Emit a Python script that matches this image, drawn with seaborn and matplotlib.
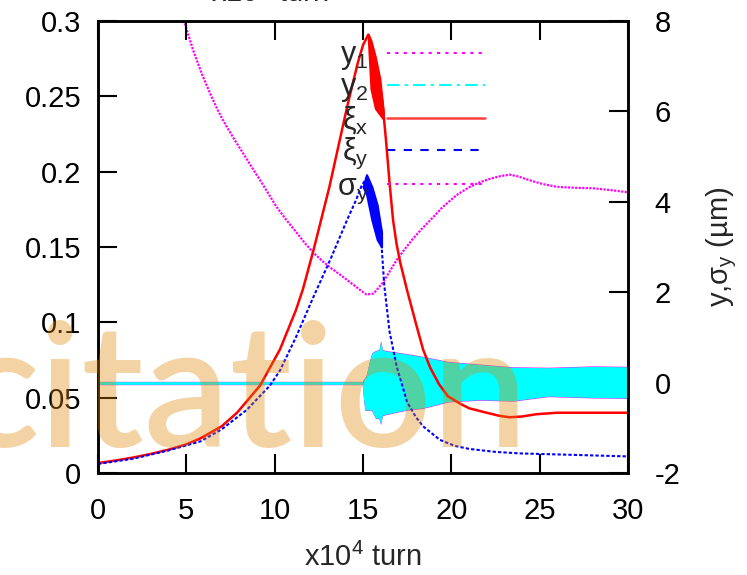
import numpy as np
import pandas as pd
import matplotlib
matplotlib.use("Agg")
import matplotlib.pyplot as plt
import seaborn as sns
from matplotlib.lines import Line2D

# ---------------- data ----------------
# xi_x (left axis)
t_xi_x = [0, 1, 2, 3, 4, 5, 5.8, 7, 7.87, 9.17, 10.3, 11.2, 11.6, 12.2, 13.1, 14.1,
          14.7, 15.0, 15.3, 15.6, 15.9, 16.1, 16.3, 16.5, 16.7, 16.9, 17.1, 17.5,
          18.0, 18.4, 18.8, 19.3, 19.8, 20.5, 21.0, 22.0, 22.7, 23.3, 24.0, 24.8,
          26.0, 27.0, 30.0]
xi_x = [0.0066, 0.0083, 0.0103, 0.0127, 0.0155, 0.019, 0.023, 0.031, 0.040, 0.058,
        0.082, 0.108, 0.122, 0.148, 0.190, 0.243, 0.272, 0.284, 0.291, 0.280, 0.262,
        0.246, 0.221, 0.193, 0.168, 0.152, 0.140, 0.121, 0.099, 0.082, 0.070, 0.059,
        0.051, 0.046, 0.043, 0.040, 0.038, 0.037, 0.0375, 0.039, 0.040, 0.040, 0.040]
t_xi_x_band = [15.3, 15.45, 15.7, 15.95, 16.15]
xi_x_band_hi = [0.291, 0.287, 0.276, 0.262, 0.240]
xi_x_band_lo = [0.288, 0.255, 0.242, 0.238, 0.235]

# xi_y (left axis)
t_xi_y = [0, 2, 4, 5.8, 7, 8.43, 9.73, 10.3, 11.2, 12.2, 13.2, 14.1, 14.6, 14.9, 15.2,
          15.6, 16.0, 16.2, 16.5, 16.9, 17.5, 18.0, 18.4, 19.35, 20.2, 21.0, 22.5,
          23.9, 27.0, 30.0]
xi_y = [0.006, 0.0095, 0.015, 0.021, 0.029, 0.042, 0.058, 0.068, 0.090, 0.117, 0.143,
        0.168, 0.181, 0.190, 0.196, 0.183, 0.160, 0.125, 0.094, 0.071, 0.047, 0.037,
        0.031, 0.022, 0.018, 0.016, 0.014, 0.013, 0.012, 0.011]
t_xi_y_band = [15.0, 15.2, 15.5, 15.8, 16.05]
xi_y_band_hi = [0.190, 0.198, 0.190, 0.178, 0.160]
xi_y_band_lo = [0.190, 0.185, 0.168, 0.155, 0.150]

# sigma_y (right axis, um)
t_sig = [4.5, 4.87, 5.38, 5.85, 6.34, 6.8, 7.3, 7.75, 8.2, 8.7, 9.17, 9.6, 10.1, 10.7,
         11.26, 11.7, 12.2, 12.7, 13.2, 13.7, 14.1, 14.5, 14.9, 15.2, 15.6, 16.1,
         16.5, 16.9, 17.4, 17.8, 18.3, 18.8, 19.5, 20.3, 21.0, 21.6, 22.2, 22.8,
         23.3, 23.8, 24.4, 25.2, 26.0, 27.0, 28.0, 29.0, 30.0]
sig_y = [8.7, 8.0, 7.36, 6.86, 6.40, 6.01, 5.65, 5.36, 5.08, 4.77, 4.48, 4.21, 3.89,
         3.58, 3.31, 3.09, 2.87, 2.69, 2.53, 2.39, 2.27, 2.15, 2.03, 1.95, 1.97, 2.20,
         2.45, 2.71, 2.97, 3.17, 3.39, 3.59, 3.88, 4.15, 4.32, 4.43, 4.51, 4.57, 4.60,
         4.56, 4.48, 4.39, 4.33, 4.31, 4.30, 4.26, 4.21]

# y2 (right axis, um): quiet line then oscillating band
t_y_quiet = [0, 5, 10, 14.95]
y2_quiet = [0.0, 0.0, 0.0, 0.0]
y1_quiet = [0.0, 0.0, 0.0, 0.0]
t_y_band = [14.95, 15.0, 15.1, 15.2, 15.35, 15.5, 15.7, 15.9, 16.0, 16.1, 16.3, 17.0,
            17.5, 18.4, 19.8, 21.6, 23.5, 25.5, 28.0, 30.0]
y2_hi = [0.0, 0.05, 0.10, 0.18, 0.45, 0.65, 0.70, 0.72, 0.92, 0.72, 0.70, 0.66, 0.63,
         0.57, 0.46, 0.40, 0.34, 0.33, 0.36, 0.35]
y2_lo = [0.0, -0.25, -0.60, -0.61, -0.60, -0.62, -0.78, -0.79, -0.92, -0.72, -0.70,
         -0.64, -0.60, -0.56, -0.42, -0.38, -0.40, -0.30, -0.33, -0.34]
y1_hi = [0.0, 0.06, 0.11, 0.19, 0.46, 0.66, 0.71, 0.73, 0.93, 0.73, 0.71, 0.67, 0.64,
         0.58, 0.47, 0.41, 0.35, 0.34, 0.37, 0.36]
y1_lo = [0.0, -0.26, -0.61, -0.62, -0.61, -0.63, -0.79, -0.80, -0.93, -0.73, -0.71,
         -0.65, -0.61, -0.57, -0.43, -0.39, -0.41, -0.31, -0.34, -0.35]

x_ticks = [0, 5, 10, 15, 20, 25, 30]
left_ticks = [0, 0.05, 0.1, 0.15, 0.2, 0.25, 0.3]
left_labels = ["0", "0.05", "0.1", "0.15", "0.2", "0.25", "0.3"]
right_ticks = [-2, 0, 2, 4, 6, 8]
right_labels = ["-2", "0", "2", "4", "6", "8"]

legend_labels = ["y$_1$", "y$_2$", "ξ$_x$", "ξ$_y$", "σ$_y$"]
watermark = "citation"

# ---------------- style ----------------
sns.set_style("white")
plt.rcParams["font.family"] = ["Liberation Sans", "DejaVu Sans"]
plt.rcParams["mathtext.fontset"] = "custom"
plt.rcParams["mathtext.rm"] = "Liberation Sans"
plt.rcParams["mathtext.it"] = "Liberation Sans"
plt.rcParams["mathtext.bf"] = "Liberation Sans:bold"

FS = 21
W, H = 747, 575
fig = plt.figure(figsize=(W / 100, H / 100), dpi=100)
L, R, T, B = 98, 628, 21, 473
ax = fig.add_axes([L / W, (H - B) / H, (R - L) / W, (B - T) / H])
ax2 = ax.twinx()
ax.set_zorder(ax2.get_zorder() + 1)
ax.patch.set_visible(False)

# right-axis series
df_sig = pd.DataFrame({"t": t_sig, "v": sig_y})
df_y1q = pd.DataFrame({"t": t_y_quiet, "v": y1_quiet})
df_y2q = pd.DataFrame({"t": t_y_quiet, "v": y2_quiet})

ax2.fill_between(t_y_band, y1_lo, y1_hi, color="magenta", lw=0)
sns.lineplot(data=df_y1q, x="t", y="v", ax=ax2, color="magenta", lw=2.4, legend=False)
ax2.fill_between(t_y_band, y2_lo, y2_hi, color="cyan", lw=0)
sns.lineplot(data=df_y2q, x="t", y="v", ax=ax2, color="cyan", lw=2.0, legend=False)
sns.lineplot(data=df_sig, x="t", y="v", ax=ax2, color="magenta", lw=1.6,
             linestyle=(0, (1, 0.6)), legend=False)

# left-axis series
df_xx = pd.DataFrame({"t": t_xi_x, "v": xi_x})
df_xy = pd.DataFrame({"t": t_xi_y, "v": xi_y})
sns.lineplot(data=df_xx, x="t", y="v", ax=ax, color="red", lw=1.8, legend=False)
ax.fill_between(t_xi_x_band, xi_x_band_lo, xi_x_band_hi, color="red", lw=1.5, ec="red")
sns.lineplot(data=df_xy, x="t", y="v", ax=ax, color="blue", lw=1.5,
             linestyle=(0, (1.6, 1.0)), legend=False)
ax.fill_between(t_xi_y_band, xi_y_band_lo, xi_y_band_hi, color="blue", lw=1.5, ec="blue")

# axes limits / ticks
ax.set_xlim(0, 30)
ax.set_ylim(0, 0.3)
ax2.set_ylim(-2, 8)
ax.set_xticks(x_ticks)
ax.set_xticklabels([str(v) for v in x_ticks])
ax.set_yticks(left_ticks)
ax.set_yticklabels(left_labels)
ax2.set_yticks(right_ticks)
ax2.set_yticklabels(right_labels)
ax.set_xlabel("")
ax.set_ylabel("")

ax.tick_params(axis="x", direction="in", length=14, width=1.5, top=True, bottom=True,
               labelsize=FS, pad=17, colors="black")
ax.tick_params(axis="y", direction="in", length=14, width=1.5, left=True, right=False,
               labelsize=FS, pad=12, colors="black")
ax2.tick_params(axis="y", direction="in", length=14, width=1.5, left=False, right=True,
                labelsize=FS, pad=19, colors="black")
for a in (ax, ax2):
    for s in a.spines.values():
        s.set_linewidth(1.8)
        s.set_color("black")

ax.set_xlabel("x10$^4$ turn", fontsize=FS, va="top")
ax.xaxis.set_label_coords(0.5, -0.155)
ax2.set_ylabel("y,σ$_y$ (µm)", fontsize=FS, rotation=90, va="center")
ax2.yaxis.set_label_coords(1.177, 0.5)

# top (cropped) label
fig.text(270 / W, (H - 2) / H, "x10$^4$ turn", fontsize=FS, ha="center", va="baseline")

# legend
handles = [
    Line2D([], [], color="magenta", lw=1.5, linestyle=(0, (1.5, 2.5))),
    Line2D([], [], color="cyan", lw=1.5, linestyle=(0, (6, 2.5, 1.5, 2.5))),
    Line2D([], [], color="#ff4040", lw=1.8),
    Line2D([], [], color="blue", lw=1.5, linestyle=(0, (4, 4))),
    Line2D([], [], color="magenta", lw=1.5, linestyle=(0, (1.5, 2.5))),
]
leg = ax.legend(handles, legend_labels, loc="upper right", bbox_to_anchor=(0.73, 0.957),
                markerfirst=False, frameon=False, fontsize=FS + 1, handlelength=3.2,
                handletextpad=0.6, labelspacing=0.0, borderpad=0, borderaxespad=0)

# watermark
fig.text(-42 / W, (H - 447) / H, watermark, fontsize=123, family="Lato",
         fontweight="semibold",
         color=(222 / 255, 133 / 255, 5 / 255), alpha=0.36, ha="left", va="baseline",
         zorder=10)

fig.savefig("out.png", dpi=100)
